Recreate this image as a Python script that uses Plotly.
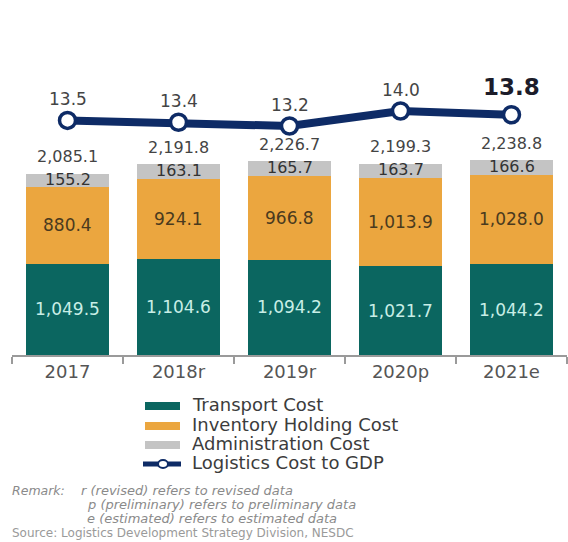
import plotly.graph_objects as go

categories = ["2017", "2018r", "2019r", "2020p", "2021e"]
transport = [1049.5, 1104.6, 1094.2, 1021.7, 1044.2]
inventory = [880.4, 924.1, 966.8, 1013.9, 1028.0]
administration = [155.2, 163.1, 165.7, 163.7, 166.6]
totals = [2085.1, 2191.8, 2226.7, 2199.3, 2238.8]
gdp_share = [13.5, 13.4, 13.2, 14.0, 13.8]

legend_labels = ["Transport Cost", "Inventory Holding Cost", "Administration Cost", "Logistics Cost to GDP"]
remark_head = "Remark:"
remark_lines = ["r (revised) refers to revised data",
                "p (preliminary) refers to preliminary data",
                "e (estimated) refers to estimated data"]
source_text = "Source: Logistics Development Strategy Division, NESDC"

TEAL = "#0b6660"
ORANGE = "#eba63f"
GREY = "#c4c4c4"
NAVY = "#0e2b66"
FONT = "DejaVu Sans"

W, H = 568, 542
PL, PR, PT, PB = 12, 567, 60, 355   # plot area in pixels


def px(x):
    return (x - PL) / (PR - PL)


def py(y):
    return (PB - y) / (PB - PT)


fig = go.Figure()
fig.add_trace(go.Bar(x=categories, y=transport, name=legend_labels[0], marker_color=TEAL,
                     marker_line_width=0, showlegend=False))
fig.add_trace(go.Bar(x=categories, y=inventory, name=legend_labels[1], marker_color=ORANGE,
                     marker_line_width=0, showlegend=False))
fig.add_trace(go.Bar(x=categories, y=administration, name=legend_labels[2], marker_color=GREY,
                     marker_line_width=0, showlegend=False))
fig.add_trace(go.Scatter(x=categories, y=gdp_share, name=legend_labels[3], yaxis="y2",
                         mode="lines+markers", line=dict(color=NAVY, width=8),
                         marker=dict(size=16, color="white", line=dict(color=NAVY, width=3.5)),
                         showlegend=False))

ann = []
for i, c in enumerate(categories):
    t, inv, adm, tot = transport[i], inventory[i], administration[i], totals[i]
    ann.append(dict(x=i, y=t / 2, xref="x", yref="y", text=f"{t:,.1f}", showarrow=False,
                    font=dict(family=FONT, size=17, color="#c8eee6")))
    ann.append(dict(x=i, y=t + inv / 2, xref="x", yref="y", text=f"{inv:,.1f}", showarrow=False,
                    font=dict(family=FONT, size=17, color="#4a3a1e")))
    ann.append(dict(x=i, y=t + inv + adm / 2, xref="x", yref="y", text=f"{adm:,.1f}", showarrow=False,
                    font=dict(family=FONT, size=16, color="#333333"), yshift=1))
    ann.append(dict(x=i, y=t + inv + adm, xref="x", yref="y", text=f"{tot:,.1f}", showarrow=False,
                    font=dict(family=FONT, size=16, color="#444444"), yshift=17))
    last = i == len(categories) - 1
    ann.append(dict(x=i, y=gdp_share[i], xref="x", yref="y2",
                    text=(f"<b>{gdp_share[i]:.1f}</b>" if last else f"{gdp_share[i]:.1f}"),
                    showarrow=False, yshift=(28 if last else 21),
                    font=dict(family=FONT, size=(23 if last else 17),
                              color=("#1c1c2a" if last else "#444444"))))

# legend (manual)
shapes = []
legend_rows = [404, 424, 443, 462]
swatch_colors = [TEAL, ORANGE, GREY]
for k, col in enumerate(swatch_colors):
    yc = legend_rows[k] + 2
    shapes.append(dict(type="rect", xref="paper", yref="paper", x0=px(145), x1=px(180),
                       y0=py(yc + 4), y1=py(yc - 4), fillcolor=col, line_width=0))
yl = legend_rows[3] + 2
shapes.append(dict(type="line", xref="paper", yref="paper", x0=px(143), x1=px(181),
                   y0=py(yl), y1=py(yl), line=dict(color=NAVY, width=5)))
shapes.append(dict(type="circle", xref="paper", yref="paper", x0=px(158), x1=px(168),
                   y0=py(yl + 4), y1=py(yl - 4), fillcolor="white", line=dict(color=NAVY, width=2)))
for k, lab in enumerate(legend_labels):
    ann.append(dict(x=px(190), y=py(legend_rows[k]), xref="paper", yref="paper", text=lab,
                    showarrow=False, xanchor="left", yanchor="middle",
                    font=dict(family=FONT, size=18, color="#3c3c3c")))

# remarks and source
ann.append(dict(x=px(10), y=py(490), xref="paper", yref="paper", text=f"<i>{remark_head}</i>",
                showarrow=False, xanchor="left", yanchor="middle",
                font=dict(family=FONT, size=12.5, color="#8a8a8a")))
remark_x = [79, 85, 85]
remark_y = [490, 504, 518]
for k, line in enumerate(remark_lines):
    ann.append(dict(x=px(remark_x[k]), y=py(remark_y[k]), xref="paper", yref="paper",
                    text=f"<i>{line}</i>", showarrow=False, xanchor="left", yanchor="middle",
                    font=dict(family=FONT, size=13, color="#8a8a8a")))
ann.append(dict(x=px(10), y=py(533), xref="paper", yref="paper", text=source_text,
                showarrow=False, xanchor="left", yanchor="middle",
                font=dict(family=FONT, size=12, color="#9a9a9a")))

fig.update_layout(
    width=W, height=H, autosize=False,
    margin=dict(l=PL, r=W - PR, t=PT, b=H - PB, pad=0),
    paper_bgcolor="white", plot_bgcolor="white",
    barmode="stack", bargap=0.25,
    showlegend=False,
    font=dict(family=FONT),
    xaxis=dict(type="category", range=[-0.5, 4.5], showline=True, linecolor="#9a9a9a", linewidth=1.5,
               ticks="outside", tickson="boundaries", ticklen=7, tickcolor="#9a9a9a", tickwidth=1.5,
               showgrid=False, zeroline=False,
               tickfont=dict(family=FONT, size=18, color="#555555"), fixedrange=True),
    yaxis=dict(range=[0, 3391], visible=False, showgrid=False, zeroline=False),
    yaxis2=dict(range=[0.987, 16.72], overlaying="y", visible=False, showgrid=False, zeroline=False),
    annotations=ann,
    shapes=shapes,
)

fig.write_html("out.html",
               config={"displayModeBar": False},
               post_script="document.body.style.margin='0';document.body.style.padding='0';"
                           "document.body.style.overflow='hidden';")
